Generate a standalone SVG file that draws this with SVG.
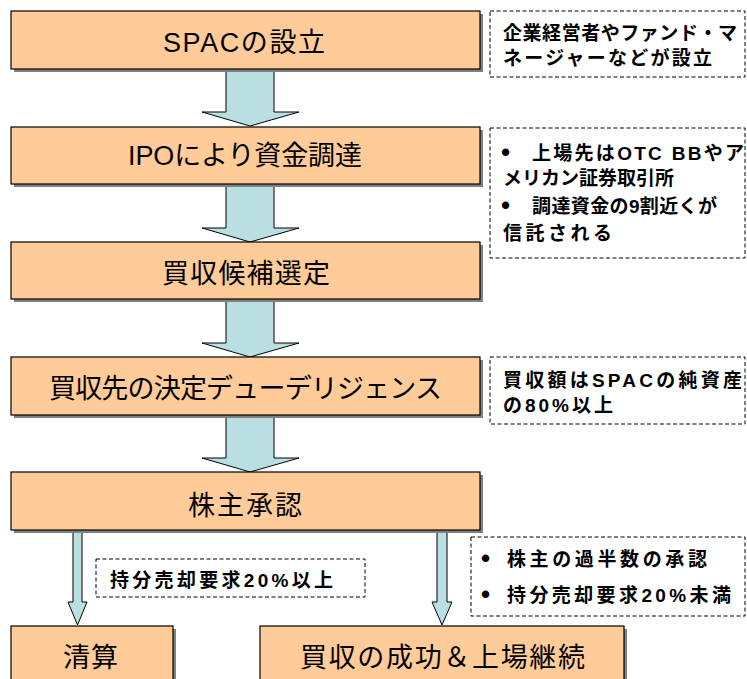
<svg xmlns="http://www.w3.org/2000/svg" width="747" height="679" viewBox="0 0 747 679">
<defs>
<style>
.box{fill:#FFCC99;stroke:#000;stroke-width:1.2}
.shadow{fill:#808080}
.arrow{fill:#B9DFE2;stroke:#000;stroke-width:1}
.note{fill:#fff;stroke:#000;stroke-width:1;stroke-dasharray:4 2.5}
.title{font-family:"Liberation Sans","Noto Sans CJK JP",sans-serif;font-size:27px;fill:#000}
.ntext{font-family:"Liberation Sans","Noto Sans CJK JP",sans-serif;font-size:19px;font-weight:bold;fill:#000}
.bullet{font-family:"Liberation Sans",sans-serif;font-size:26px;font-weight:bold;fill:#000}
</style>
</defs>
<rect width="747" height="679" fill="#fff"/>

<g id="connectors">
<path class="arrow" d="M226,69 H274 V112 H299 L250,126 L202,112 H226 Z"/>
<path class="arrow" d="M226,185 H274 V228 H299 L250,242 L202,228 H226 Z"/>
<path class="arrow" d="M226,300 H274 V343 H299 L250,357 L202,343 H226 Z"/>
<path class="arrow" d="M226,416 H274 V458 H299 L250,472 L202,458 H226 Z"/>
<path class="arrow" d="M73,531 H82 V602 H87 L77.5,625 L68,602 H73 Z"/>
<path class="arrow" d="M437,531 H447 V602 H452 L442,625 L432,602 H437 Z"/>
</g>

<g id="n1">
<rect class="shadow" x="14" y="14" width="469" height="58"/>
<rect class="box" x="11" y="11" width="469" height="58"/>
<text class="title" x="163" y="52" textLength="162" lengthAdjust="spacing">SPACの設立</text>
</g>
<g id="n2">
<rect class="shadow" x="14" y="130" width="469" height="57"/>
<rect class="box" x="11" y="127" width="469" height="57"/>
<text class="title" x="128" y="165" textLength="234" lengthAdjust="spacing">IPOにより資金調達</text>
</g>
<g id="n3">
<rect class="shadow" x="14" y="245" width="469" height="57"/>
<rect class="box" x="11" y="242" width="469" height="57"/>
<text class="title" x="162" y="283" textLength="168" lengthAdjust="spacing">買収候補選定</text>
</g>
<g id="n4">
<rect class="shadow" x="14" y="360" width="469" height="58"/>
<rect class="box" x="11" y="357" width="469" height="58"/>
<text class="title" x="49" y="398" textLength="393" lengthAdjust="spacing">買収先の決定デューデリジェンス</text>
</g>
<g id="n5">
<rect class="shadow" x="14" y="475" width="469" height="58"/>
<rect class="box" x="11" y="472" width="469" height="58"/>
<text class="title" x="188" y="515" textLength="114" lengthAdjust="spacing">株主承認</text>
</g>
<g id="n6">
<rect class="shadow" x="14" y="629" width="162" height="60"/>
<rect class="box" x="11" y="626" width="162" height="60"/>
<text class="title" x="63" y="667" textLength="55" lengthAdjust="spacing">清算</text>
</g>
<g id="n7">
<rect class="shadow" x="263" y="629" width="364" height="60"/>
<rect class="box" x="260" y="626" width="364" height="60"/>
<text class="title" x="300" y="667" textLength="285" lengthAdjust="spacing">買収の成功＆上場継続</text>
</g>

<g id="note1">
<rect class="note" x="490" y="11" width="255" height="66"/>
<text class="ntext" x="503" y="40" textLength="234" lengthAdjust="spacing">企業経営者やファンド・マ</text>
<text class="ntext" x="503" y="65" textLength="209" lengthAdjust="spacing">ネージャーなどが設立</text>
</g>
<g id="note2">
<rect class="note" x="490" y="128" width="255" height="130"/>
<text class="bullet" x="501" y="161">•</text>
<text class="ntext" x="532" y="160" textLength="212" lengthAdjust="spacing">上場先はOTC BBやア</text>
<text class="ntext" x="503" y="185">メリカン証券取引所</text>
<text class="bullet" x="501" y="214">•</text>
<text class="ntext" x="532" y="213" textLength="185" lengthAdjust="spacing">調達資金の9割近くが</text>
<text class="ntext" x="503" y="240" textLength="109" lengthAdjust="spacing">信託される</text>
</g>
<g id="note3">
<rect class="note" x="490" y="357" width="255" height="67"/>
<text class="ntext" x="503" y="387" textLength="239" lengthAdjust="spacing">買収額はSPACの純資産</text>
<text class="ntext" x="503" y="412" textLength="110" lengthAdjust="spacing">の80%以上</text>
</g>
<g id="note4">
<rect class="note" x="96" y="559" width="269" height="38"/>
<text class="ntext" x="110" y="587" textLength="223" lengthAdjust="spacing">持分売却要求20%以上</text>
</g>
<g id="note5">
<rect class="note" x="471" y="537" width="274" height="79"/>
<text class="bullet" x="481" y="567">•</text>
<text class="ntext" x="507" y="566" textLength="200" lengthAdjust="spacing">株主の過半数の承認</text>
<text class="bullet" x="481" y="603">•</text>
<text class="ntext" x="507" y="602" textLength="224" lengthAdjust="spacing">持分売却要求20%未満</text>
</g>
</svg>
